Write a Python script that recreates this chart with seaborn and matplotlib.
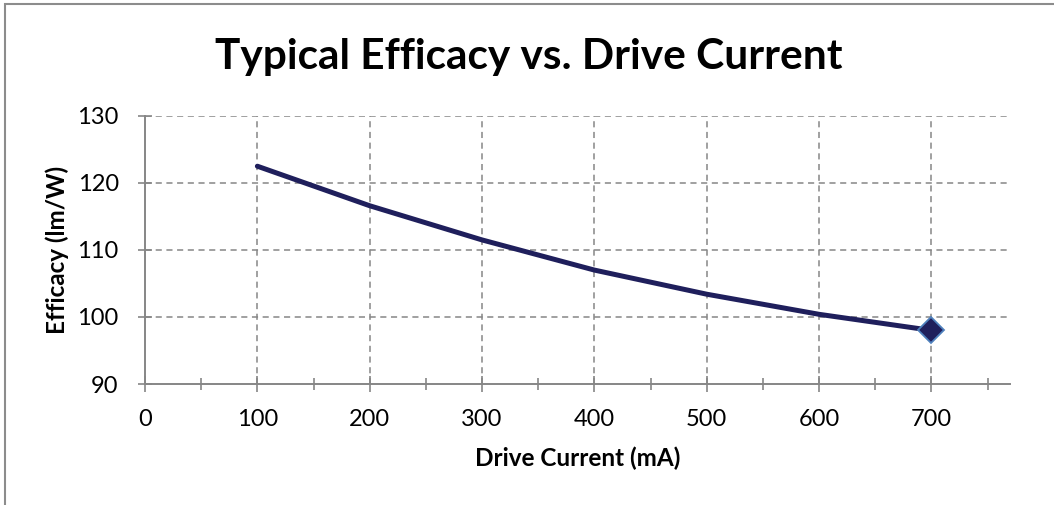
import matplotlib.pyplot as plt
import seaborn as sns
import pandas as pd
from matplotlib.patches import Rectangle
from matplotlib.ticker import MultipleLocator

# values
drive_current = [100, 200, 300, 400, 500, 600, 700]
efficacy = [122.5, 116.6, 111.5, 107.0, 103.4, 100.4, 98.0]

df = pd.DataFrame({"Drive Current (mA)": drive_current, "Efficacy (lm/W)": efficacy})

sns.set_style("white")
plt.rcParams["font.family"] = ["Lato", "DejaVu Sans"]
plt.rcParams["text.color"] = "black"
plt.rcParams["axes.labelcolor"] = "black"
plt.rcParams["xtick.color"] = "black"
plt.rcParams["ytick.color"] = "black"

fig = plt.figure(figsize=(10.54, 5.05), dpi=100)
ax = fig.add_axes([0.1376, 0.2396, 0.8207, 0.5308])

grid_c = "#868686"
line_c = "#1F1F5C"

sns.lineplot(data=df, x="Drive Current (mA)", y="Efficacy (lm/W)", ax=ax,
             color=line_c, linewidth=3.6, zorder=3)
# end marker only on the last point
ax.plot(drive_current[-1], efficacy[-1], marker="D", markersize=13,
        markerfacecolor=line_c, markeredgecolor="#4F81BD", markeredgewidth=1.3,
        zorder=4, linestyle="none")

ax.set_xlim(0, 770)
ax.set_ylim(90, 130)
ax.xaxis.set_major_locator(MultipleLocator(100))
ax.xaxis.set_minor_locator(MultipleLocator(50))
ax.yaxis.set_major_locator(MultipleLocator(10))

# gridlines, skipping the axis lines themselves
for x in drive_current:
    ax.axvline(x, color=grid_c, linestyle=(0, (4, 3)), linewidth=1.1, zorder=1)
for y in [100, 110, 120, 130]:
    ax.axhline(y, color=grid_c, linestyle=(0, (4, 3)), linewidth=1.1, zorder=1)

for side in ["top", "right"]:
    ax.spines[side].set_visible(False)
for side in ["left", "bottom"]:
    ax.spines[side].set_color(grid_c)
    ax.spines[side].set_linewidth(1.4)

ax.tick_params(bottom=True, left=True, which="both")
ax.tick_params(axis="y", which="major", direction="inout", length=10,
               width=1.2, color=grid_c, labelsize=17, pad=14)
ax.tick_params(axis="x", which="major", direction="inout", length=12,
               width=1.2, color=grid_c, labelsize=17, pad=12)
ax.tick_params(axis="x", which="minor", direction="inout", length=8,
               width=1.2, color=grid_c)

ax.set_xlabel("Drive Current (mA)", fontsize=17.5, fontweight="bold")
ax.set_ylabel("Efficacy (lm/W)", fontsize=17.5, fontweight="bold")
ax.xaxis.label.set_va("center")
ax.yaxis.label.set_va("center")
ax.xaxis.set_label_coords(0.5, -0.276)
ax.yaxis.set_label_coords(-0.102, 0.5)

fig.text(0.5015, 0.888, "Typical Efficacy vs. Drive Current", ha="center",
         va="center", fontsize=30.5, fontweight="bold")

# chart-area border (right and bottom edges fall outside the image)
fig.patches.append(Rectangle((0.005, -0.05), 1.1, 1.042, transform=fig.transFigure,
                             fill=False, edgecolor="#8C8C8C", linewidth=1.5))

fig.savefig("out.png", dpi=100)
